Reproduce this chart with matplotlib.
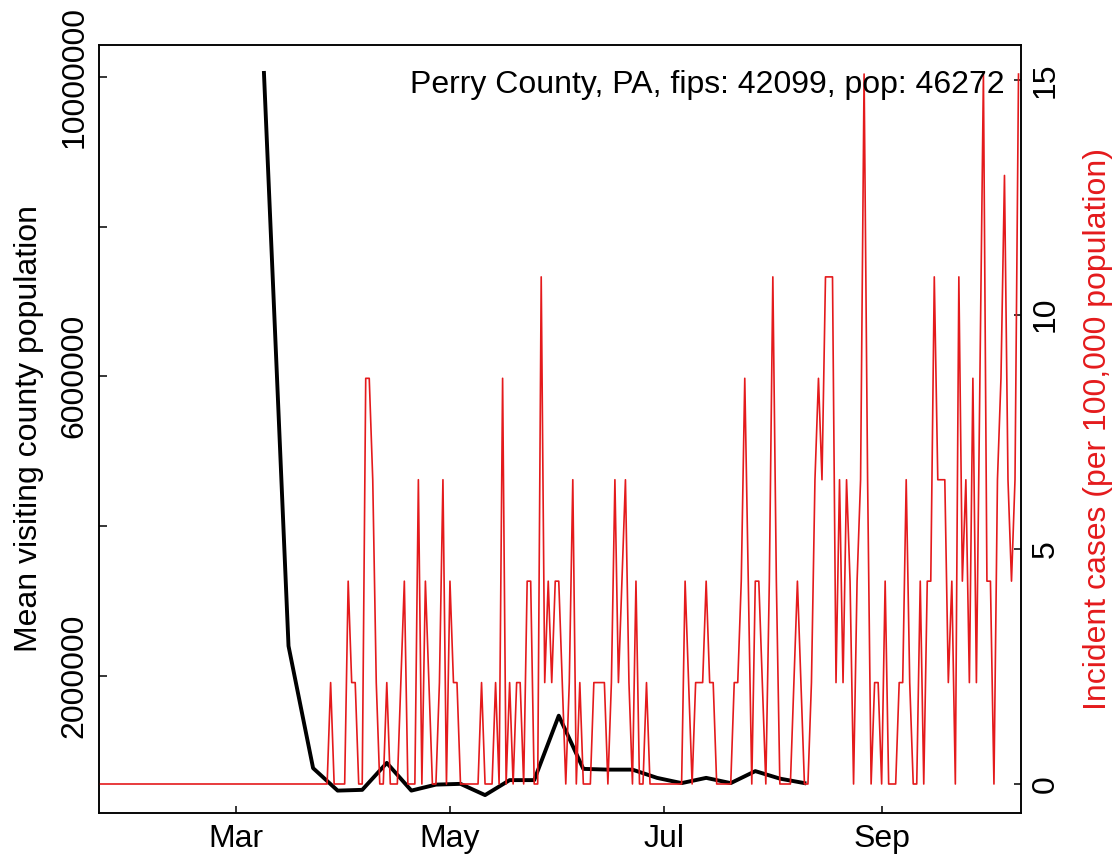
import numpy as np
import pandas as pd
import matplotlib
matplotlib.use("Agg")
import matplotlib.pyplot as plt

plt.rcParams['font.family'] = ['Liberation Sans', 'DejaVu Sans']

POP = 46272
TITLE = "Perry County, PA, fips: 42099, pop: 46272"

# weekly mean visiting county population (black line)
visit_start = "2020-03-09"
visit_pop = [10050000, 2400000, 770000, 470000, 480000, 840000, 470000, 550000,
             560000, 410000, 610000, 610000, 1470000, 760000, 750000, 750000,
             640000, 570000, 640000, 570000, 730000, 630000, 570000]

# daily new cases (red line), starting 2020-01-22
case_start = "2020-01-22"
new_cases = [
    0, 0, 0, 0, 0, 0, 0, 0, 0, 0, 0, 0, 0, 0, 0, 0, 0, 0, 0, 0, 0, 0,
    0, 0, 0, 0, 0, 0, 0, 0, 0, 0, 0, 0, 0, 0, 0, 0, 0, 0, 0, 0, 0, 0,
    0, 0, 0, 0, 0, 0, 0, 0, 0, 0, 0, 0, 0, 0, 0, 0, 0, 0, 0, 0, 0, 0,
    1, 0, 0, 0, 0, 2, 1, 1, 0, 0,
    4, 4, 3, 1, 0, 0, 1, 0, 0, 0,
    1, 2, 0, 0, 0, 3, 0, 2, 1, 0,
    0, 1, 3, 0, 2, 1, 1, 0, 0, 0,
    0, 0, 0, 1, 0, 0, 0, 1, 0, 4,
    0, 1, 0, 1, 1, 0, 2, 2, 0, 0,
    5, 1, 2, 1, 2, 2, 1, 0, 1, 3,
    0, 1, 0, 0, 0, 1, 1, 1, 1, 0,
    1, 3, 1, 2, 3, 1, 0, 2, 0, 0,
    1, 0, 0, 0, 0, 0, 0, 0, 0, 0,
    0, 2, 1, 0, 1, 1, 1, 2, 1, 1,
    0, 0, 0, 0, 0, 1, 1, 2, 4, 2,
    0, 2, 2, 1, 0, 2, 5, 2, 0, 0,
    0, 0, 1, 2, 1, 0, 0, 1, 3, 4,
    3, 5, 5, 5, 1, 3, 1, 3, 2, 0,
    2, 3, 7, 3, 0, 1, 1, 0, 2, 0,
    0, 0, 1, 1, 3, 1, 0, 0, 2, 0,
    2, 2, 5, 3, 3, 3, 1, 2, 0, 5,
    2, 3, 1, 4, 1, 4, 7, 2, 2, 0,
    3, 4, 6, 3, 2, 3, 7,
]

month_ticks = ["2020-03-01", "2020-05-01", "2020-07-01", "2020-09-01"]
month_labels = ["Mar", "May", "Jul", "Sep"]
left_ticks = [2000000, 4000000, 6000000, 8000000, 10000000]
left_labels = ["2000000", "", "6000000", "", "10000000"]
right_ticks = [0, 5, 10, 15]

visit_dates = pd.date_range(visit_start, periods=len(visit_pop), freq="7D")
case_dates = pd.date_range(case_start, periods=len(new_cases), freq="D")
incidence = np.array(new_cases) * 100000 / POP

RED = "#E41A1C"
FS = 23

fig = plt.figure(figsize=(11.19, 8.58), dpi=100)
ax = fig.add_axes([99 / 1119, 45 / 858, 922 / 1119, 768 / 858])
ax2 = ax.twinx()

ax.plot(visit_dates, visit_pop, color="black", lw=2.8, zorder=3)
ax2.plot(case_dates, incidence, color=RED, lw=1.2)

ax.set_xlim(pd.Timestamp("2020-01-22"), pd.Timestamp("2020-10-10 17:00"))
ax.set_ylim(171000, 10423000)
ax2.set_ylim(-0.618, 15.747)

ax.set_xticks([pd.Timestamp(d) for d in month_ticks])
ax.set_xticklabels(month_labels)
ax.set_yticks(left_ticks)
ax.set_yticklabels(left_labels, rotation=90, va="center")
ax2.set_yticks(right_ticks)
ax2.set_yticklabels([str(t) for t in right_ticks], rotation=90, va="center")

for a in (ax, ax2):
    a.tick_params(direction="in", length=5.4, width=1.1, labelsize=FS, pad=7)
    for s in a.spines.values():
        s.set_linewidth(1.1)
ax.tick_params(axis="x", pad=8)

ax.set_ylabel("Mean visiting county population", fontsize=FS, labelpad=11)
ax2.set_ylabel("Incident cases (per 100,000 population)", fontsize=FS, color=RED,
               labelpad=16)
ax2.text(0.9826, 0.948, TITLE, transform=ax2.transAxes, ha="right", va="center",
         fontsize=FS)

fig.savefig("out.png", dpi=100)
